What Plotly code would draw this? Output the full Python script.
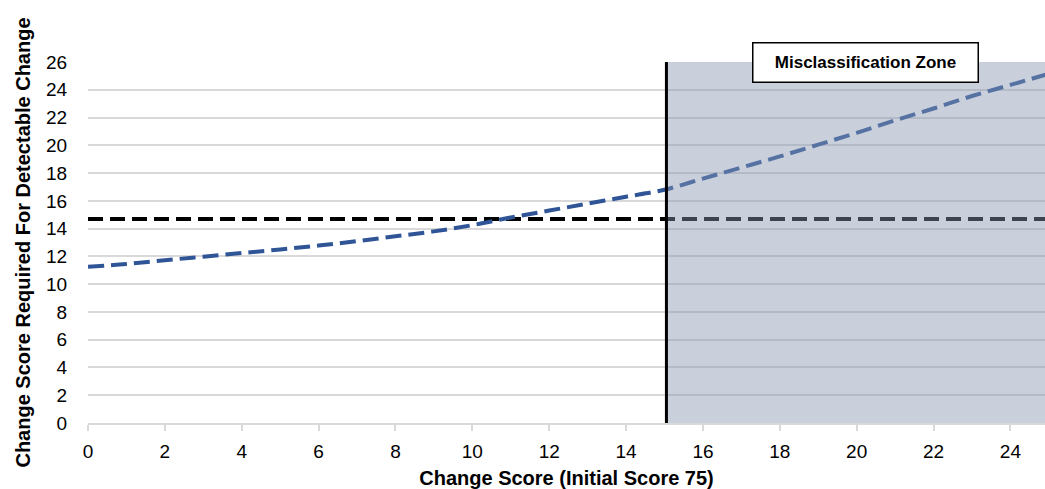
import plotly.graph_objects as go

# Change score vs. score required for a detectable change (initial score 75)
change_score = [0, 1, 2, 3, 4, 5, 6, 7, 8, 9, 10, 11, 12, 13,
                14, 15, 16, 17, 18, 19, 20, 21, 22, 23, 24, 25]
required_change = [11.25, 11.45, 11.72, 11.98, 12.24, 12.5, 12.78, 13.1, 13.45, 13.8,
                   14.25, 14.8, 15.3, 15.8, 16.3, 16.8, 17.6, 18.4, 19.2, 20.05,
                   20.9, 21.8, 22.65, 23.55, 24.35, 25.15]
threshold_value = 14.7          # constant detectable-change threshold
zone_start = 15.05              # start of the misclassification zone
x_max, y_max = 24.9, 26
x_ticks = list(range(0, 25, 2))
y_ticks = list(range(0, 27, 2))

FONT = "Arial, 'Liberation Sans', sans-serif"

fig = go.Figure()

fig.add_trace(go.Scatter(
    x=[0, x_max], y=[threshold_value, threshold_value], mode="lines",
    line=dict(color="black", width=4, dash="15px,7px"),
    hoverinfo="skip", showlegend=False,
))
fig.add_trace(go.Scatter(
    x=change_score, y=required_change, mode="lines",
    line=dict(color="#2f5597", width=4, dash="16px,7px", shape="spline"),
    showlegend=False,
))

# translucent zone drawn over the lines, then the boundary line on top
fig.add_shape(type="rect", x0=zone_start, x1=x_max, y0=0, y1=y_max,
              xref="x", yref="y", layer="above",
              fillcolor="rgba(135,151,178,0.45)", line=dict(width=0))
fig.add_shape(type="line", x0=zone_start, x1=zone_start, y0=0, y1=y_max,
              xref="x", yref="y", layer="above",
              line=dict(color="black", width=3))

fig.add_annotation(
    x=20.24, y=y_max, xref="x", yref="y", xanchor="center", yanchor="middle",
    text="<b>Misclassification Zone</b>", showarrow=False,
    font=dict(family=FONT, size=17, color="black"),
    bgcolor="white", bordercolor="black", borderwidth=1.5,
    width=222, height=36,
)

fig.update_layout(
    width=1045, height=489,
    margin=dict(l=88, r=0, t=62, b=66),
    paper_bgcolor="white", plot_bgcolor="white",
    font=dict(family=FONT, size=19, color="black"),
    xaxis=dict(
        range=[0, x_max], tickvals=x_ticks, showgrid=False, zeroline=False,
        showline=True, linecolor="#d9d9d9", linewidth=1.5,
        ticks="outside", ticklen=6, tickcolor="#d9d9d9", tickwidth=1.5,
        ticklabelstandoff=4,
        tickfont=dict(size=19),
        title=dict(text="<b>Change Score (Initial Score 75)</b>",
                   font=dict(size=20), standoff=10),
    ),
    yaxis=dict(
        range=[0, y_max], tickvals=y_ticks, showgrid=True, gridcolor="#d9d9d9",
        gridwidth=1.5, zeroline=False, showline=False,
        ticks="outside", ticklen=16, tickcolor="rgba(0,0,0,0)",
        tickfont=dict(size=19),
        title=dict(text="<b>Change Score Required For Detectable Change</b>",
                   font=dict(size=20), standoff=10),
    ),
)

fig.write_html("out.html")
